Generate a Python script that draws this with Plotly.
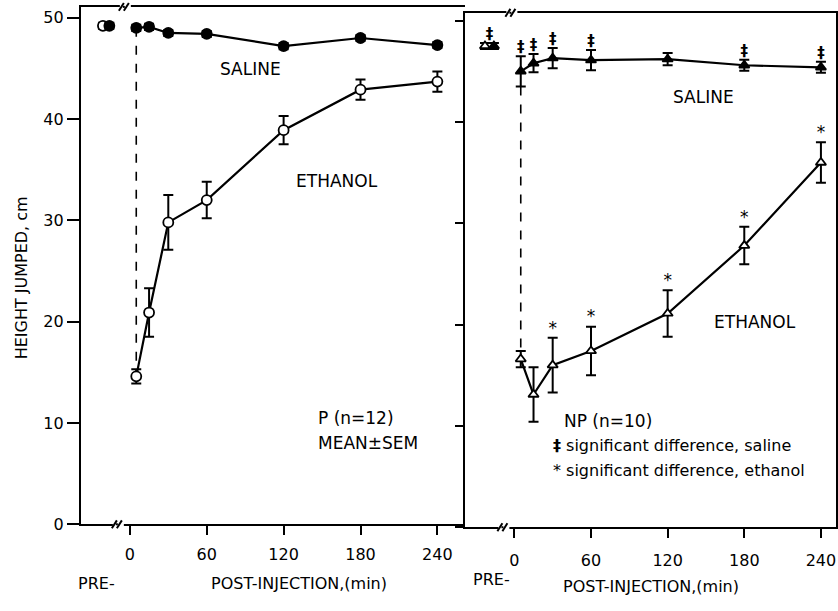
import plotly.graph_objects as go

# ---------------- data ----------------
post_time = [5, 15, 30, 60, 120, 180, 240]

# Left panel: P (n=12)
p_pre_time_saline = [-16]
p_pre_time_ethanol = [-21]
p_pre_saline = [49.2]
p_pre_saline_sem = [0.3]
p_pre_ethanol = [49.2]
p_pre_ethanol_sem = [0.3]
p_saline = [49.0, 49.1, 48.5, 48.4, 47.2, 48.0, 47.3]
p_saline_sem = [0.3, 0.3, 0.3, 0.3, 0.3, 0.3, 0.3]
p_ethanol = [14.6, 20.9, 29.8, 32.0, 38.9, 42.9, 43.7]
p_ethanol_sem = [0.7, 2.4, 2.7, 1.8, 1.4, 1.0, 1.0]

# Right panel: NP (n=10)
np_pre_time_saline = [-16]
np_pre_time_ethanol = [-23]
np_pre_saline = [47.5]
np_pre_saline_sem = [0.3]
np_pre_ethanol = [47.5]
np_pre_ethanol_sem = [0.3]
np_saline = [45.0, 45.8, 46.3, 46.1, 46.2, 45.6, 45.4]
np_saline_sem = [1.5, 0.9, 1.0, 1.0, 0.6, 0.55, 0.55]
np_ethanol = [16.6, 13.1, 16.0, 17.4, 21.1, 27.8, 36.0]
np_ethanol_sem = [0.8, 2.7, 2.7, 2.4, 2.3, 1.85, 2.0]
np_sig_saline = [True, True, True, True, False, True, True]
np_sig_saline_pre = True
np_sig_ethanol = [False, False, True, True, True, True, True]

x_ticks = [0, 60, 120, 180, 240]
y_ticks = [0, 10, 20, 30, 40, 50]

# ---------------- figure ----------------
W, H = 838, 611
FONT = "DejaVu Sans"


def px(x):
    return x / W


def py(y):
    return (H - y) / H


fig = go.Figure()

err_style = dict(type="data", thickness=2, width=5, color="black")


def add_series(xs, ys, sems, symbol, filled, xa, ya, size=10, mode="lines+markers"):
    fig.add_trace(go.Scatter(
        x=xs, y=ys, mode=mode, xaxis=xa, yaxis=ya,
        line=dict(color="black", width=2.2),
        marker=dict(symbol=symbol, size=size,
                    color="black" if filled else "white",
                    line=dict(color="black", width=1.8)),
        error_y=dict(array=sems, **err_style),
        showlegend=False, hoverinfo="skip", cliponaxis=False,
    ))


# dashed connectors (from saline level down to ethanol at first post time)
fig.add_trace(go.Scatter(x=[post_time[0], post_time[0]], y=[p_saline[0], p_ethanol[0]],
                         mode="lines", xaxis="x", yaxis="y",
                         line=dict(color="black", width=1.6, dash="dash"),
                         showlegend=False, hoverinfo="skip"))
fig.add_trace(go.Scatter(x=[post_time[0], post_time[0]],
                         y=[np_saline[0] - np_saline_sem[0], np_ethanol[0] + np_ethanol_sem[0]],
                         mode="lines", xaxis="x2", yaxis="y2",
                         line=dict(color="black", width=1.6, dash="dash"),
                         showlegend=False, hoverinfo="skip"))

# left panel
add_series(post_time, p_saline, p_saline_sem, "circle", True, "x", "y")
add_series(post_time, p_ethanol, p_ethanol_sem, "circle", False, "x", "y")
add_series(p_pre_time_ethanol, p_pre_ethanol, p_pre_ethanol_sem, "circle", False, "x", "y", mode="markers")
add_series(p_pre_time_saline, p_pre_saline, p_pre_saline_sem, "circle", True, "x", "y", mode="markers")

# right panel
add_series(post_time, np_saline, np_saline_sem, "triangle-up", True, "x2", "y2", size=9)
add_series(post_time, np_ethanol, np_ethanol_sem, "triangle-up", False, "x2", "y2", size=9)
add_series(np_pre_time_ethanol, np_pre_ethanol, np_pre_ethanol_sem, "triangle-up", False, "x2", "y2", size=9, mode="markers")
add_series(np_pre_time_saline, np_pre_saline, np_pre_saline_sem, "triangle-up", True, "x2", "y2", size=9, mode="markers")

# significance marks
sx, sy = [], []
for t, v, e, s in zip(post_time, np_saline, np_saline_sem, np_sig_saline):
    if s:
        sx.append(t)
        sy.append(v + e)
if np_sig_saline_pre:
    sx.append((np_pre_time_saline[0] + np_pre_time_ethanol[0]) / 2)
    sy.append(np_pre_saline[0] + np_pre_saline_sem[0])
fig.add_trace(go.Scatter(x=sx, y=sy, mode="text", text=["<b>‡</b>"] * len(sx), textposition="top center",
                         textfont=dict(family=FONT, size=15, color="black"),
                         xaxis="x2", yaxis="y2", showlegend=False, hoverinfo="skip", cliponaxis=False))
ex, ey = [], []
for t, v, e, s in zip(post_time, np_ethanol, np_ethanol_sem, np_sig_ethanol):
    if s:
        ex.append(t)
        ey.append(v + e)
fig.add_trace(go.Scatter(x=ex, y=ey, mode="text", text=["*"] * len(ex), textposition="top center",
                         textfont=dict(family=FONT, size=17, color="black"),
                         xaxis="x2", yaxis="y2", showlegend=False, hoverinfo="skip", cliponaxis=False))

axis_common = dict(showgrid=False, zeroline=False, showline=True, linecolor="black", linewidth=2,
                   ticks="outside", tickcolor="black", tickwidth=2,
                   tickfont=dict(family=FONT, size=16, color="black"))

# left panel geometry: t=0 at px 130, 1.283 px/min; y=0 at 533, 10.3 px/unit
fig.update_layout(
    width=W, height=H,
    margin=dict(l=0, r=0, t=0, b=0),
    paper_bgcolor="white", plot_bgcolor="white",
    showlegend=False,
    xaxis=dict(domain=[px(81), px(466)], range=[-38.2, 261.9], tickvals=x_ticks,
               ticklen=9, mirror=True, ticklabelstandoff=6, anchor="y", **axis_common),
    yaxis=dict(domain=[py(533), py(7)], range=[0, 51.07], tickvals=y_ticks,
               ticklen=12, anchor="x", **axis_common),
    xaxis2=dict(domain=[px(466), px(837)], range=[-38.3, 251.8], tickvals=x_ticks,
                ticklen=9, mirror=True, ticklabelstandoff=9, anchor="y2", **axis_common),
    yaxis2=dict(domain=[py(536), py(13)], range=[0, 50.78], tickvals=y_ticks,
                ticklen=8, mirror=True, showticklabels=False, anchor="x2", **axis_common),
)

# axis breaks "//"
shapes = []


def add_break(x0, y0):
    shapes.append(dict(type="line", xref="paper", yref="paper", x0=px(x0 - 1), x1=px(x0 + 10), y0=py(y0), y1=py(y0),
                       line=dict(color="white", width=4)))
    for dx in (0, 5):
        shapes.append(dict(type="line", xref="paper", yref="paper",
                           x0=px(x0 + dx - 2), y0=py(y0 + 4), x1=px(x0 + dx + 3), y1=py(y0 - 4),
                           line=dict(color="black", width=2)))
    shapes.append(dict(type="line", xref="paper", yref="paper", x0=px(x0 + 2), x1=px(x0 + 4), y0=py(y0), y1=py(y0),
                       line=dict(color="black", width=2)))


add_break(114, 533)
add_break(121, 7)
add_break(500, 536)
add_break(508, 13)
fig.update_layout(shapes=shapes)

ann = []


def text(x, y, s, xref, yref, size=17, xanchor="center", angle=0):
    ann.append(dict(x=x, y=y, xref=xref, yref=yref, text=s, showarrow=False, xanchor=xanchor,
                    yanchor="middle", textangle=angle,
                    font=dict(family=FONT, size=size, color="black")))


text(94, 44.9, "SALINE", "x", "y")
text(162, 33.9, "ETHANOL", "x", "y")
text(145, 10.5, "P (n=12)", "x", "y", xanchor="left")
text(145, 8.06, "MEAN±SEM", "x", "y", xanchor="left")
text(148, 42.5, "SALINE", "x2", "y2")
text(188, 20.3, "ETHANOL", "x2", "y2")
text(37, 10.5, "NP (n=10)", "x2", "y2", xanchor="left")
text(29, 8.06, "<b>‡</b> significant difference, saline", "x2", "y2", size=16, xanchor="left")
text(29, 5.63, "* significant difference, ethanol", "x2", "y2", size=16, xanchor="left")

text(px(21), py(282), "HEIGHT JUMPED, cm", "paper", "paper", size=16, angle=-90)
text(px(97), py(593), "PRE-", "paper", "paper", size=16)
text(px(299), py(593), "POST-INJECTION,(min)", "paper", "paper", size=16)
text(px(492), py(589), "PRE-", "paper", "paper", size=16)
text(px(652), py(596), "POST-INJECTION,(min)", "paper", "paper", size=16)
fig.update_layout(annotations=ann)

fig.write_html("out.html", config={"displayModeBar": False},
               post_script="document.body.style.margin='0px';document.body.style.overflow='hidden';")
